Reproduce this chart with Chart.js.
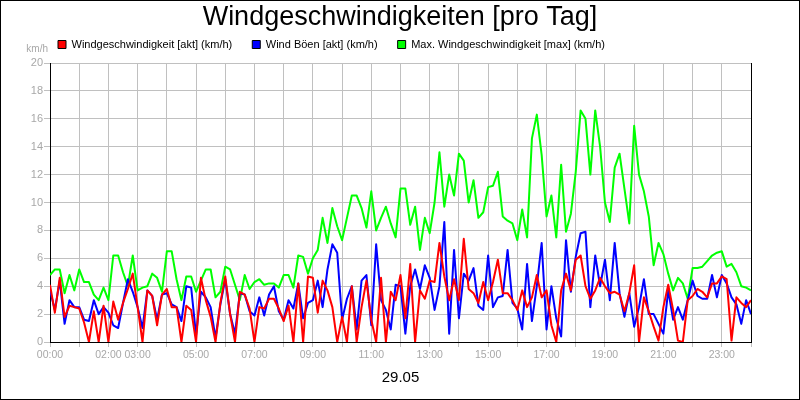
<!DOCTYPE html>
<html><head><meta charset="utf-8">
<script src="https://cdn.jsdelivr.net/npm/chart.js@4.4.1/dist/chart.umd.min.js"></script>
<style>html,body{margin:0;padding:0;background:#fff;}</style>
</head><body>
<canvas id="c" width="800" height="400"></canvas>
<script>
// ---- data (10-minute samples, 00:00 .. 24:00) ----
const stepMinutes = 10;
const labeledHours = [0, 2, 3, 5, 7, 9, 11, 13, 15, 17, 19, 21, 23];
const titleText = 'Windgeschwindigkeiten [pro Tag]';
const dateLabel = '29.05';
const unitLabel = 'km/h';
const seriesNames = ['Windgeschwindigkeit [akt] (km/h)', 'Wind Böen [akt] (km/h)', 'Max. Windgeschwindigkeit [max] (km/h)'];

const windAkt = [
  4.1, 2.1, 4.6, 1.8, 2.6, 2.5, 2.4, 1.4, 0, 2.2, 0, 2.6, 0, 2.9, 1.6, 2.8, 3.8, 4.9, 2.5, 0, 3.7, 3.3, 1.2, 3.4, 3.8, 2.5, 2.5, 0, 2.6, 2.3, 0, 4.6, 3.0, 1.8, 0, 2.8, 4.7,
  2.0, 0, 3.6, 3.4, 2.4, 0, 2.5, 2.4, 3.1, 3.1, 2.4, 1.5, 2.6, 0, 4.2, 0, 4.7, 4.6, 2.1, 4.4, 3.7, 2.5, 0, 1.8, 0, 4.0, 0, 2.5, 4.4, 1.6, 0, 4.6, 0, 3.6, 3.0, 4.8,
  1.7, 5.6, 0, 3.7, 3.1, 4.4, 4.3, 7.1, 4.7, 3.0, 4.5, 3.0, 7.4, 3.8, 3.5, 2.8, 4.3, 3.0, 4.3, 5.9, 3.5, 3.5, 3.0, 2.3, 3.7, 2.5, 3.2, 4.8, 3.2, 3.7, 1.2, 0, 3.7, 4.9, 3.7, 5.9,
  6.2, 4.0, 3.1, 3.7, 4.6, 4.0, 3.5, 3.6, 3.4, 2.2, 3.5, 5.5, 0, 3.2, 2.2, 1.1, 0.1, 2.5, 4.1, 2.3, 0.1, 0, 3.0, 3.3, 3.8, 3.6, 3.2, 4.2, 4.2, 4.7, 4.5, 0.1, 3.2, 2.8, 2.5, 3.0
];
const windBoeen = [
  3.7, 2.3, 4.4, 1.3, 3.0, 2.5, 2.5, 1.6, 1.5, 3.0, 2.0, 2.5, 2.1, 1.2, 1.0, 2.8, 4.5, 3.6, 2.5, 1.0, 3.7, 3.3, 1.6, 3.4, 3.5, 2.7, 2.5, 1.5, 4.0, 3.9, 0.5, 3.6, 3.2, 2.5, 0.3, 2.7, 4.5,
  2.0, 0.6, 3.5, 3.4, 2.2, 1.9, 3.2, 1.9, 3.4, 4.0, 2.2, 1.6, 3.0, 2.4, 4.2, 1.7, 2.8, 3.0, 4.4, 2.5, 5.2, 7.0, 6.4, 1.6, 3.1, 4.0, 0.9, 4.4, 4.8, 1.2, 7.0, 3.0, 2.3, 0.9, 4.1, 4.0,
  0.6, 4.0, 5.2, 3.8, 5.5, 4.6, 2.3, 4.0, 8.6, 0.6, 6.6, 1.7, 4.9, 4.4, 5.3, 2.6, 2.3, 6.2, 2.5, 3.2, 3.3, 6.6, 2.8, 2.4, 0.9, 5.6, 1.5, 4.0, 7.1, 0.9, 4.0, 1.7, 0.4, 7.3, 3.6, 6.1,
  7.8, 7.9, 2.5, 6.2, 4.0, 5.9, 3.0, 7.1, 3.5, 1.8, 3.5, 1.1, 2.5, 4.5, 2.0, 2.0, 1.3, 0.6, 3.7, 1.6, 2.5, 1.6, 3.0, 4.4, 3.3, 3.1, 3.1, 4.8, 3.2, 4.8, 4.2, 3.2, 2.7, 1.3, 3.0, 2.0
];
const windMax = [
  4.8, 5.2, 5.2, 3.5, 4.8, 3.7, 5.2, 4.3, 4.3, 3.4, 3.0, 3.9, 3.0, 6.2, 6.2, 5.0, 4.0, 6.2, 3.7, 3.9, 4.0, 4.9, 4.6, 3.6, 6.5, 6.5, 4.5, 3.0, 4.7, 4.7, 3.6, 4.4, 5.2, 5.2, 3.2, 3.6, 5.4,
  5.2, 4.1, 3.0, 4.8, 3.8, 4.3, 4.5, 4.1, 4.2, 4.2, 3.9, 4.8, 4.8, 3.9, 6.2, 6.1, 4.9, 6.0, 6.6, 8.9, 7.1, 9.6, 8.3, 7.3, 8.9, 10.5, 10.5, 9.6, 8.2, 10.8, 8.0, 8.9, 9.7, 8.5, 7.5, 11.0,
  11.0, 8.4, 9.7, 6.6, 8.9, 7.8, 10.0, 13.6, 9.7, 12.0, 10.5, 13.5, 13.0, 10.0, 11.6, 8.9, 9.3, 11.1, 11.2, 12.2, 9.0, 8.7, 8.5, 7.3, 9.5, 7.5, 14.6, 16.3, 13.4, 9.0, 10.5, 7.5, 12.7, 7.9, 9.2, 12.2,
  16.6, 16.0, 12.0, 16.6, 14.0, 10.0, 8.6, 12.5, 13.5, 11.0, 8.5, 15.5, 12.0, 10.8, 9.0, 5.5, 7.1, 6.3, 4.9, 3.7, 4.6, 4.2, 3.1, 5.3, 5.3, 5.4, 5.8, 6.2, 6.4, 6.5, 5.4, 5.6, 5.0, 4.0, 3.9, 3.7
];
const seriesColors = ['#ff0000', '#0000ff', '#00ff00'];

// ---- chart ----
const FONT = "'Liberation Sans', Arial, Helvetica, sans-serif";
Chart.defaults.font.family = FONT;
const GRID = '#c0c0c0';
const TICKTXT = '#a8a8a8';

const toPoints = arr => arr.map((v, i) => ({ x: i * stepMinutes, y: v }));
const pad2 = n => (n < 10 ? '0' : '') + n;

const framePlugin = {
  id: 'frame',
  afterLayout(chart) {
    // legend row starts a little left of the plot area, like the original
    if (chart.legend) chart.legend.left = 38;
  },
  beforeDraw(chart) {
    const ctx = chart.ctx;
    ctx.save();
    ctx.fillStyle = '#ffffff';
    ctx.fillRect(0, 0, chart.width, chart.height);
    ctx.restore();
  },
  afterDraw(chart) {
    const ctx = chart.ctx;
    ctx.save();
    ctx.strokeStyle = '#000000';
    ctx.lineWidth = 1;
    ctx.strokeRect(0.5, 0.5, chart.width - 1, chart.height - 1);
    ctx.fillStyle = TICKTXT;
    ctx.font = '10px ' + FONT;
    ctx.textAlign = 'right';
    ctx.textBaseline = 'middle';
    ctx.fillText(unitLabel, chart.chartArea.left - 2, 49);
    ctx.restore();
  }
};

new Chart(document.getElementById('c'), {
  type: 'line',
  data: {
    datasets: [
      { label: seriesNames[0], data: toPoints(windAkt), borderColor: seriesColors[0], backgroundColor: seriesColors[0], xAxisID: 'x', yAxisID: 'y' },
      { label: seriesNames[1], data: toPoints(windBoeen), borderColor: seriesColors[1], backgroundColor: seriesColors[1], xAxisID: 'x', yAxisID: 'y' },
      { label: seriesNames[2], data: toPoints(windMax), borderColor: seriesColors[2], backgroundColor: seriesColors[2], xAxisID: 'x', yAxisID: 'y' }
    ]
  },
  options: {
    responsive: false,
    animation: false,
    devicePixelRatio: 1,
    layout: { padding: 0 },
    elements: {
      line: { borderWidth: 2, tension: 0, borderJoinStyle: 'round', fill: false },
      point: { radius: 0, hoverRadius: 0 }
    },
    plugins: {
      title: {
        display: true,
        text: titleText,
        color: '#000',
        font: { size: 27, weight: 'normal', lineHeight: 1 },
        padding: { top: 4.5, bottom: -12.5 }
      },
      legend: {
        display: true,
        align: 'start',
        labels: {
          color: '#000',
          font: { size: 11 },
          boxWidth: 8,
          boxHeight: 8,
          padding: 20,
          generateLabels(chart) {
            return chart.data.datasets.map((ds, i) => ({
              text: ds.label,
              fillStyle: ds.borderColor,
              strokeStyle: '#000',
              lineWidth: 1,
              hidden: false,
              datasetIndex: i,
              fontColor: '#000'
            }));
          }
        }
      },
      tooltip: { enabled: false }
    },
    scales: {
      x: {
        type: 'linear',
        position: 'bottom',
        min: 0,
        max: 1440,
        afterFit(s) { s.height = 58; },
        ticks: {
          stepSize: 60,
          autoSkip: false,
          maxRotation: 0,
          minRotation: 0,
          padding: 2,
          color: TICKTXT,
          font: { size: 10.5 },
          callback(value) {
            const h = value / 60;
            return labeledHours.includes(h) ? pad2(h) + ':00' : '';
          }
        },
        grid: {
          color: ctx => (ctx.tick && ctx.tick.value === 1440 ? '#000' : GRID),
          tickColor: GRID,
          tickLength: 5,
          lineWidth: 1
        },
        border: { color: '#000', width: 1 },
        title: {
          display: true,
          text: dateLabel,
          color: '#000',
          font: { size: 15, lineHeight: 1.2 },
          padding: { top: 0, bottom: 13 }
        }
      },
      y: {
        type: 'linear',
        position: 'left',
        min: 0,
        max: 20,
        afterFit(s) { s.width = 50; },
        ticks: {
          stepSize: 2,
          padding: 1,
          color: TICKTXT,
          font: { size: 11 }
        },
        grid: { color: GRID, tickColor: GRID, tickLength: 6, lineWidth: 1 },
        border: { color: '#000', width: 1 }
      },
      gapTop: {
        type: 'linear',
        position: 'top',
        display: true,
        afterFit(s) { s.height = 3; },
        ticks: { display: false },
        grid: { display: false, drawTicks: false },
        border: { display: false }
      },
      gapRight: {
        type: 'linear',
        position: 'right',
        display: true,
        afterFit(s) { s.width = 49; },
        ticks: { display: false },
        grid: { display: false, drawTicks: false },
        border: { display: false }
      }
    }
  },
  plugins: [framePlugin]
});
</script>
</body></html>
